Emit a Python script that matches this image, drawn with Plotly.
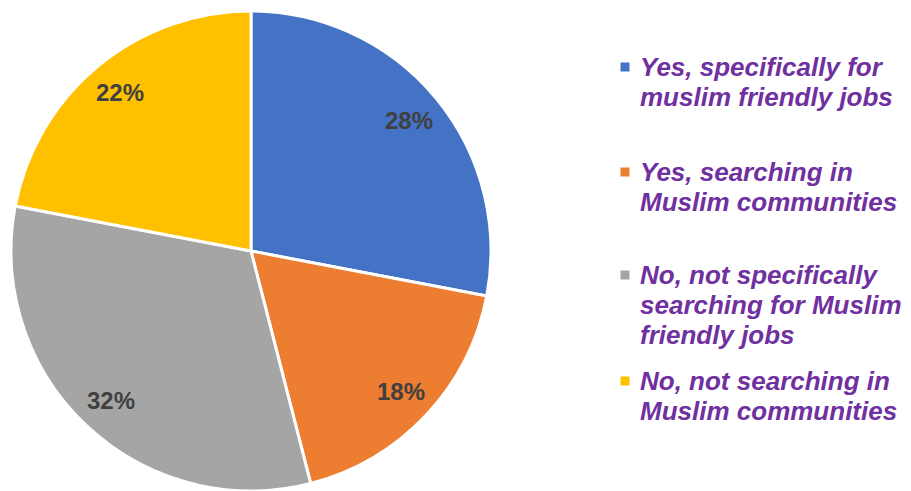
import math
import plotly.graph_objects as go

categories = [
    "Yes, specifically for<br>muslim friendly jobs",
    "Yes, searching in<br>Muslim communities",
    "No, not specifically<br>searching for Muslim<br>friendly jobs",
    "No, not searching in<br>Muslim communities",
]
values = [28, 18, 32, 22]
colors = ["#4472C4", "#ED7D31", "#A5A5A5", "#FFC000"]

W, H = 911, 491
cx, cy, r = 251, 251, 240

fig = go.Figure(go.Pie(
    labels=categories,
    values=values,
    sort=False,
    direction="clockwise",
    rotation=0,
    marker=dict(colors=colors, line=dict(color="white", width=3)),
    textposition="none",
    domain=dict(x=[(cx - r) / W, (cx + r) / W],
                y=[max(0, (H - cy - r) / H), min(1, (H - cy + r) / H)]),
    showlegend=False,
    hoverinfo="label+percent",
))

# percentage labels placed along each slice's mid-angle
total = sum(values)
cum = 0
lab_r = 0.855 * r
for v in values:
    mid = (cum + v / 2) / total * 2 * math.pi
    cum += v
    px = cx + lab_r * math.sin(mid)
    py = cy - lab_r * math.cos(mid)
    fig.add_annotation(xref="paper", yref="paper", x=px / W, y=1 - py / H,
                       xanchor="center", yanchor="middle", showarrow=False,
                       text="<b>%d%%</b>" % round(v / total * 100),
                       font=dict(family="Liberation Sans, Arial", size=24, color="#404040"))

# legend drawn as annotations + square shapes
leg_x_sq = 625
leg_x_txt = 638
first_line = [67, 172, 275, 381]
line_gap = 30
for lab, col, y1 in zip(categories, colors, first_line):
    fig.add_shape(type="rect", xref="paper", yref="paper",
                  x0=(leg_x_sq - 4.5) / W, x1=(leg_x_sq + 4.5) / W,
                  y0=1 - (y1 + 4.5) / H, y1=1 - (y1 - 4.5) / H,
                  fillcolor=col, line=dict(width=0))
    for i, line in enumerate(lab.split("<br>")):
        fig.add_annotation(xref="paper", yref="paper", x=leg_x_txt / W,
                           y=1 - (y1 + i * line_gap) / H,
                           xanchor="left", yanchor="middle", align="left",
                           text="<b><i>" + line + "</i></b>", showarrow=False,
                           font=dict(family="Liberation Sans, Arial", size=26, color="#7030A0"))

fig.update_layout(
    width=W, height=H,
    margin=dict(l=0, r=0, t=0, b=0),
    paper_bgcolor="white",
    plot_bgcolor="white",
)
fig.write_html("out.html")
